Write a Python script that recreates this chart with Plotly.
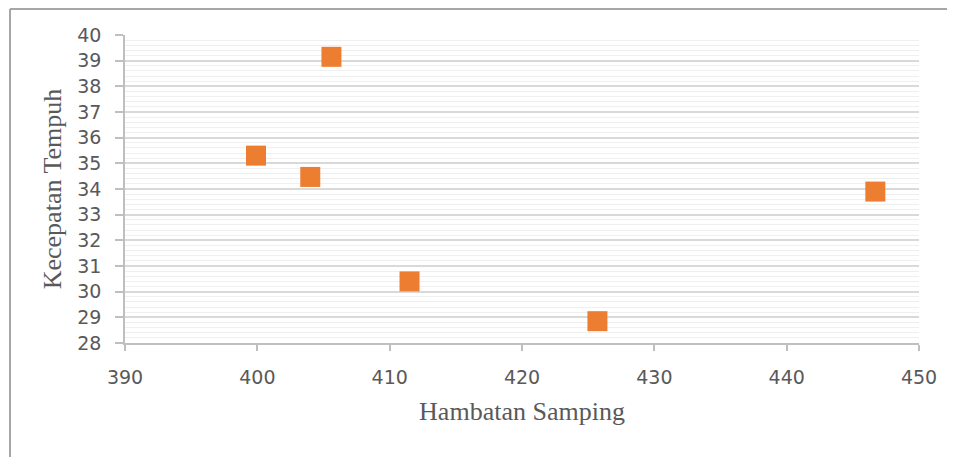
import plotly.graph_objects as go

# data
hambatan = [405.6, 399.9, 404.0, 411.5, 425.7, 446.7]
kecepatan = [39.15, 35.3, 34.47, 30.4, 28.85, 33.9]
x_ticks = [390, 400, 410, 420, 430, 440, 450]
y_ticks = list(range(28, 41))

# page body has an 8px margin, so the figure is shrunk by that much
W, H = 947, 449
fig = go.Figure()
fig.add_trace(go.Scatter(x=hambatan, y=kecepatan, mode="markers",
                         marker=dict(symbol="square", size=20, color="#ED7D31",
                                     line=dict(width=0)),
                         showlegend=False, hoverinfo="x+y"))

tickfont = dict(family="DejaVu Sans, sans-serif", size=19, color="#595959")
titlefont = dict(family="Liberation Serif, Times New Roman, serif", size=26, color="#595959")

fig.update_xaxes(range=[390, 450], tickvals=x_ticks, showgrid=False, zeroline=False,
                 showline=True, linecolor="#bfbfbf", linewidth=1.5,
                 ticks="outside", ticklen=6, tickcolor="#bfbfbf", tickwidth=1.5,
                 tickfont=tickfont, ticklabelstandoff=10,
                 title=dict(text="Hambatan Samping", font=titlefont, standoff=15))
fig.update_yaxes(range=[28, 40], tickvals=y_ticks, showgrid=True, gridcolor="#d9d9d9",
                 gridwidth=1.5, zeroline=False,
                 showline=True, linecolor="#bfbfbf", linewidth=1.5,
                 ticks="outside", ticklen=8, tickcolor="#bfbfbf", tickwidth=1.5,
                 tickfont=tickfont, ticklabelstandoff=10,
                 minor=dict(dtick=0.2, showgrid=True, gridcolor="#efefef", gridwidth=1),
                 title=dict(text="Kecepatan Tempuh", font=titlefont, standoff=8))

# outer frame of the embedded chart: only its left and top edges show
fx, fy = -115/794, 1 + 26/308
frame = dict(color="#a6a6a6", width=2)
fig.add_shape(type="line", xref="paper", yref="paper", x0=fx, x1=fx, y0=-0.5, y1=fy, line=frame)
fig.add_shape(type="line", xref="paper", yref="paper", x0=fx, x1=1.2, y0=fy, y1=fy, line=frame)

fig.update_layout(width=W, height=H, paper_bgcolor="#ffffff", plot_bgcolor="#ffffff",
                  margin=dict(l=117, r=36, t=27, b=114))
fig.write_html("out.html")
